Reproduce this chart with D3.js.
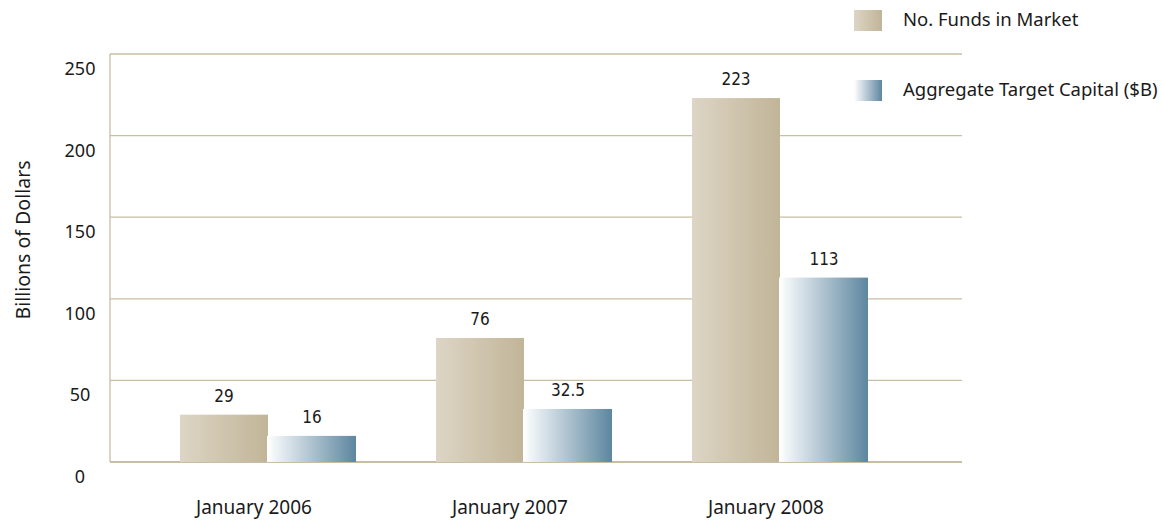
<!DOCTYPE html>
<html>
<head>
<meta charset="utf-8">
<script src="https://cdn.jsdelivr.net/npm/d3@7"></script>
<style>
  body { margin: 0; background: #fff; }
  text { font-family: "Noto Sans", Lato, sans-serif; fill: #1a1a1a; }
  text.value { font-family: "DejaVu Sans Condensed", "Liberation Sans Narrow", sans-serif; font-stretch: condensed; }
</style>
</head>
<body>
<svg id="chart"></svg>
<script>
let categories = ['January 2006', 'January 2007', 'January 2008']
let seriesNames = ['No. Funds in Market', 'Aggregate Target Capital ($B)']
let fundsInMarket = [29, 76, 223]
let targetCapital = [16, 32.5, 113]
let valueLabels = [['29', '76', '223'], ['16', '32.5', '113']]
let yTicks = [0, 50, 100, 150, 200, 250]

let opts = {
    width: 1162,
    height: 521,
    left: 110,
    right: 962,
    top: 54,
    bottom: 462,
    gridColor: '#c9bea4',
}

let svg = d3.select('#chart')
    .attr('width', opts.width)
    .attr('height', opts.height)

// gradients
let defs = svg.append('defs')
function gradient(id, from, to) {
    let g = defs.append('linearGradient')
        .attr('id', id)
        .attr('x1', '0%').attr('x2', '100%')
        .attr('y1', '0%').attr('y2', '0%')
    g.append('stop').attr('offset', '0%').attr('stop-color', from)
    g.append('stop').attr('offset', '100%').attr('stop-color', to)
}
gradient('tan', '#ddd5c5', '#c1b598')
gradient('blue', '#ffffff', '#5d86a0')
let fills = ['url(#tan)', 'url(#blue)']

let y = d3.scaleLinear()
    .domain([0, 250])
    .range([opts.bottom, opts.top])

let x = d3.scaleBand()
    .domain(categories)
    .range([140, 908])
    .paddingInner(0.3125)
    .paddingOuter(0.15625)

let xs = d3.scaleBand()
    .domain([0, 1])
    .range([0, x.bandwidth()])

// grid lines
svg.append('g').selectAll('line')
    .data(yTicks)
    .enter().append('line')
    .attr('x1', opts.left)
    .attr('x2', opts.right)
    .attr('y1', d => y(d))
    .attr('y2', d => y(d))
    .attr('stroke', opts.gridColor)
    .attr('stroke-width', d => d === 0 ? 2 : 1.3)

svg.append('line')
    .attr('x1', opts.left).attr('x2', opts.left)
    .attr('y1', opts.top).attr('y2', opts.bottom)
    .attr('stroke', opts.gridColor)
    .attr('stroke-width', 1.3)

// y tick labels (sit below their lines)
svg.append('g').selectAll('text')
    .data(yTicks)
    .enter().append('text')
    .attr('x', 80)
    .attr('y', d => y(d) + 21)
    .attr('text-anchor', 'middle')
    .attr('font-size', 18)
    .text(d => d)

svg.append('text')
    .attr('transform', 'translate(30,240) rotate(-90)')
    .attr('text-anchor', 'middle')
    .attr('font-size', 19.5)
    .text('Billions of Dollars')

// bars
let series = [fundsInMarket, targetCapital]
series.forEach((vals, s) => {
    let g = svg.append('g')
    g.selectAll('rect')
        .data(vals)
        .enter().append('rect')
        .attr('x', (d, i) => x(categories[i]) + xs(s) - (s === 1 ? 1 : 0))
        .attr('y', d => y(d))
        .attr('width', xs.bandwidth() + (s === 1 ? 1 : 0))
        .attr('height', d => y(0) - y(d))
        .attr('fill', fills[s])
    g.selectAll('text')
        .data(vals)
        .enter().append('text')
        .attr('class', 'value')
        .attr('x', (d, i) => x(categories[i]) + xs(s) + xs.bandwidth() / 2)
        .attr('y', d => y(d) - 13)
        .attr('text-anchor', 'middle')
        .attr('font-size', 17)
        .text((d, i) => valueLabels[s][i])
})

// category labels
svg.append('g').selectAll('text')
    .data(categories)
    .enter().append('text')
    .attr('x', d => x(d) + x.bandwidth() / 2 - 14)
    .attr('y', 514)
    .attr('text-anchor', 'middle')
    .attr('font-size', 19)
    .text(d => d)

// legend
let legendY = [10, 80]
let legend = svg.append('g').selectAll('g')
    .data(seriesNames)
    .enter().append('g')
    .attr('transform', (d, i) => 'translate(854,' + legendY[i] + ')')
legend.append('rect')
    .attr('width', 28)
    .attr('height', 21)
    .attr('fill', (d, i) => fills[i])
legend.append('text')
    .attr('x', 49)
    .attr('y', 16)
    .attr('font-size', 18.5)
    .text(d => d)
</script>
</body>
</html>
